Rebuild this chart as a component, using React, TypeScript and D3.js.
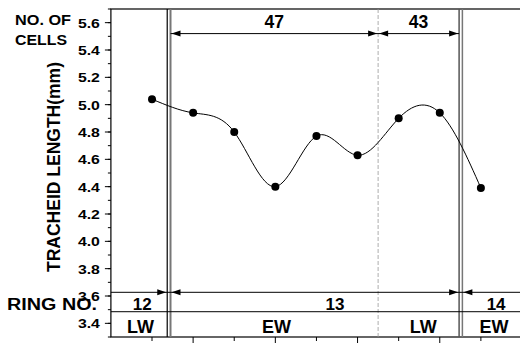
import React from 'react'
import * as d3 from 'd3'

// sample positions along the section and tracheid length (mm)
const positions = [1, 2, 3, 4, 5, 6, 7, 8, 9]
const lengths = [5.04, 4.94, 4.8, 4.4, 4.77, 4.63, 4.9, 4.94, 4.39]

// ring boundaries (double lines) and EW/LW boundary (dashed)
const ringLines = [1.37, 1.45, 8.47, 8.55]
const woodBoundary = 6.5

// number of cells between boundaries
const cellLabels = ['47', '43']
const cellSpans = [[1.45, 6.5], [6.5, 8.47]]

// ring numbers and wood types
const ringLabels = ['12', '13', '14']
const ringLabelPos = [0.76, 5.45, 9.37]
const woodLabels = ['LW', 'EW', 'LW', 'EW']
const woodLabelPos = [0.72, 4.03, 7.6, 9.32]

const yTicks = [3.4, 3.6, 3.8, 4.0, 4.2, 4.4, 4.6, 4.8, 5.0, 5.2, 5.4, 5.6]

const W = 520
const H = 343
const font = 'Liberation Sans, Arial, sans-serif'

const Arrow = ({ x, y, dir }: { x: number; y: number; dir: number }) => (
  // dir = 1 points right, -1 points left; (x, y) is the tip
  <path d={`M${x},${y} L${x - dir * 9},${y - 3} L${x - dir * 9},${y + 3} Z`} fill="#000" />
)

const App = () => {
  const x = d3.scaleLinear().domain([0, 10]).range([110.9, 522])
  const y = d3.scaleLinear().domain([3.3, 5.7]).range([337, 9])

  const line = d3
    .line<number>()
    .x((d, i) => x(positions[i]))
    .y((d) => y(d))
    .curve(d3.curveNatural)

  const minorY = d3.range(3.3, 5.71, 0.1).map((v) => +v.toFixed(1))
  const xTicks = d3.range(1, 10)

  const top = y(5.7)
  const bottom = y(3.3)
  const left = x(0)
  const right = x(10)
  const cellY = y(5.52)
  const ringY = y(3.627)
  const woodY = y(3.485)

  return (
    <svg
      width={W}
      height={H}
      style={{ position: 'absolute', left: 0, top: 0, background: '#fff' }}
      fontFamily={font}
      fontWeight="bold">
      {/* frame */}
      <rect x={left} y={top} width={right - left} height={bottom - top} fill="none" stroke="#000" strokeWidth={1.2} />

      {/* y ticks */}
      {minorY.map((v) => (
        <line key={'m' + v} x1={left - 3} x2={left} y1={y(v)} y2={y(v)} stroke="#000" />
      ))}
      {yTicks.map((v) => (
        <g key={v}>
          <line x1={left - 6} x2={left} y1={y(v)} y2={y(v)} stroke="#000" />
          <text
            x={left - 33}
            y={y(v)}
            dy="0.36em"
            fontSize={13.5}
            textLength={22}
            lengthAdjust="spacingAndGlyphs">
            {v.toFixed(1)}
          </text>
        </g>
      ))}

      {/* x ticks */}
      {xTicks.map((v) => (
        <line key={v} x1={x(v)} x2={x(v)} y1={bottom} y2={bottom + (v % 2 === 0 ? 7 : 4)} stroke="#000" />
      ))}

      {/* boundaries */}
      <line x1={x(ringLines[0])} x2={x(ringLines[0])} y1={top} y2={bottom} stroke="#000" strokeWidth={1.2} />
      <line x1={x(ringLines[1])} x2={x(ringLines[1])} y1={top} y2={bottom} stroke="#777" strokeWidth={2} />
      <line x1={x(ringLines[2])} x2={x(ringLines[2])} y1={top} y2={bottom} stroke="#555" strokeWidth={1.5} />
      <line x1={x(ringLines[3])} x2={x(ringLines[3])} y1={top} y2={bottom} stroke="#777" strokeWidth={1.5} />
      <line
        x1={x(woodBoundary)}
        x2={x(woodBoundary)}
        y1={top}
        y2={bottom}
        stroke="#999"
        strokeWidth={0.8}
        strokeDasharray="4,2"
      />

      {/* number of cells */}
      <line x1={x(cellSpans[0][0])} x2={x(cellSpans[1][1])} y1={cellY} y2={cellY} stroke="#000" />
      {cellSpans.map((s, i) => (
        <g key={i}>
          <Arrow x={x(s[0]) + 1} y={cellY} dir={-1} />
          <Arrow x={x(s[1]) - 1} y={cellY} dir={1} />
          <text x={x((s[0] + s[1]) / 2)} y={cellY - 6} textAnchor="middle" fontSize={17.5}>
            {cellLabels[i]}
          </text>
        </g>
      ))}

      {/* ring rows */}
      <line x1={left} x2={right} y1={ringY} y2={ringY} stroke="#000" />
      <line x1={left} x2={right} y1={woodY} y2={woodY} stroke="#000" />
      <Arrow x={x(ringLines[0]) - 1} y={ringY} dir={1} />
      <Arrow x={x(ringLines[1]) + 1} y={ringY} dir={-1} />
      <Arrow x={x(ringLines[2]) - 1} y={ringY} dir={1} />
      <Arrow x={x(ringLines[3]) + 1} y={ringY} dir={-1} />
      {ringLabels.map((t, i) => (
        <text key={t} x={x(ringLabelPos[i])} y={ringY + 18} textAnchor="middle" fontSize={17}>
          {t}
        </text>
      ))}
      {woodLabels.map((t, i) => (
        <text key={i} x={x(woodLabelPos[i])} y={woodY + 21} textAnchor="middle" fontSize={18}>
          {t}
        </text>
      ))}

      {/* data */}
      <path d={line(lengths) ?? ''} fill="none" stroke="#000" strokeWidth={1} />
      {lengths.map((v, i) => (
        <circle key={i} cx={x(positions[i])} cy={y(v)} r={4} fill="#000" />
      ))}

      {/* titles */}
      <text x={15} y={25} fontSize={14.5} textLength={56} lengthAdjust="spacingAndGlyphs">
        NO. OF
      </text>
      <text x={15} y={45} fontSize={14.5} textLength={52} lengthAdjust="spacingAndGlyphs">
        CELLS
      </text>
      <text x={7} y={310} fontSize={16} textLength={90} lengthAdjust="spacingAndGlyphs">
        RING NO.
      </text>
      <text transform={`translate(60,167) rotate(-90)`} textAnchor="middle" fontSize={17.5}>
        TRACHEID LENGTH(mm)
      </text>
    </svg>
  )
}

export default App
